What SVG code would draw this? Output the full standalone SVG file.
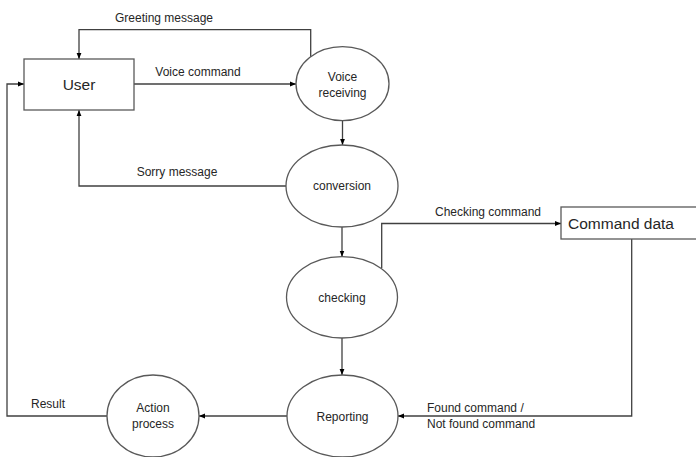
<svg xmlns="http://www.w3.org/2000/svg" width="696" height="457" viewBox="0 0 696 457">
<style>
.node{fill:#fff;stroke:#595959;stroke-width:1.3}
.ln{fill:none;stroke:#404040;stroke-width:1.3}
.t{font-family:"Liberation Sans",Arial,sans-serif;font-size:12px;fill:#262626}
.big{font-size:15.5px}
</style>
<defs>
<marker id="ah" viewBox="0 0 10 10" refX="10" refY="5" markerWidth="6" markerHeight="6" orient="auto" markerUnits="userSpaceOnUse">
<path d="M0,1 L10,5 L0,9 z" fill="#000"/>
</marker>
</defs>
<rect width="696" height="457" fill="#fff"/>
<g id="connectors">
<path class="ln" d="M310.7,57 V29.7 H79 V59" marker-end="url(#ah)"/>
<path class="ln" d="M134,84 H296" marker-end="url(#ah)"/>
<path class="ln" d="M342.5,120.7 V145" marker-end="url(#ah)"/>
<path class="ln" d="M286,186 H79 V110" marker-end="url(#ah)"/>
<path class="ln" d="M342,227 V256.7" marker-end="url(#ah)"/>
<path class="ln" d="M381.7,268 V223.5 H561" marker-end="url(#ah)"/>
<path class="ln" d="M342,338 V375" marker-end="url(#ah)"/>
<path class="ln" d="M631.7,239 V416 H398" marker-end="url(#ah)"/>
<path class="ln" d="M287,416 H199" marker-end="url(#ah)"/>
<path class="ln" d="M107,416 H7 V84 H24" marker-end="url(#ah)"/>
<text class="t" x="164" y="21.5" text-anchor="middle">Greeting message</text>
<text class="t" x="198" y="75.5" text-anchor="middle">Voice command</text>
<text class="t" x="177" y="176" text-anchor="middle">Sorry message</text>
<text class="t" x="488" y="215.5" text-anchor="middle">Checking command</text>
<text class="t" x="427" y="412">Found command /</text>
<text class="t" x="427" y="428">Not found command</text>
<text class="t" x="31" y="408">Result</text>
</g>
<g id="user">
<rect class="node" x="24" y="59" width="110" height="51"/>
<text class="t big" x="79" y="89.5" text-anchor="middle">User</text>
</g>
<g id="voice-receiving">
<ellipse class="node" cx="342.5" cy="83.7" rx="46.5" ry="37"/>
<text class="t" x="342.5" y="81" text-anchor="middle">Voice</text>
<text class="t" x="342.5" y="96.5" text-anchor="middle">receiving</text>
</g>
<g id="conversion">
<ellipse class="node" cx="342" cy="186" rx="56" ry="41"/>
<text class="t" x="342" y="190" text-anchor="middle">conversion</text>
</g>
<g id="checking">
<ellipse class="node" cx="342" cy="297.3" rx="55.5" ry="40.7"/>
<text class="t" x="342" y="302" text-anchor="middle">checking</text>
</g>
<g id="command-data">
<rect class="node" x="561" y="207" width="140" height="32"/>
<text class="t big" x="568" y="228.5">Command data</text>
</g>
<g id="reporting">
<ellipse class="node" cx="342.5" cy="416" rx="55.5" ry="41"/>
<text class="t" x="342.5" y="421" text-anchor="middle">Reporting</text>
</g>
<g id="action-process">
<ellipse class="node" cx="153" cy="416" rx="46" ry="41"/>
<text class="t" x="153" y="412" text-anchor="middle">Action</text>
<text class="t" x="153" y="428" text-anchor="middle">process</text>
</g>
</svg>
